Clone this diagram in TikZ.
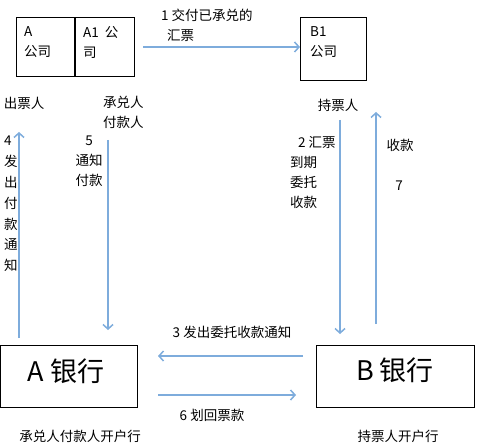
\documentclass[tikz,border=0pt]{standalone}
\usepackage{fontspec}
\setmainfont{Noto Sans CJK SC}
\usepackage{tikz}
\usetikzlibrary{arrows.meta,positioning}
\definecolor{flowblue}{HTML}{7EACDC}
\tikzset{
    > = {Straight Barb[length=4.5pt,width=10pt]},
    flow/.style = {
        ->,
        draw = flowblue,
        line width = 1.5pt
    },
    box/.style = {
        draw = black,
        line width = 1.1pt,
        rectangle,
        inner sep = 0pt
    },
    lbl/.style = {
        inner sep = 0pt,
        font = \fontsize{13.5}{20}\selectfont
    },
    big/.style = {
        inner sep = 0pt,
        font = \fontsize{27}{30}\selectfont
    }
}

\begin{document}
\begin{tikzpicture}[x=1pt, y=-1pt]
\useasboundingbox (0,0) rectangle (494,446);
%companies
    \node (acomp) [box, anchor=north west, minimum width=58pt, minimum height=59pt] at (16,17) {};
    \node (a1comp) [box, anchor=north west, minimum width=59pt, minimum height=59pt] at (acomp.north east) {};
    \node (bcomp) [box, anchor=north west, minimum width=66pt, minimum height=63pt] at (300,17) {};
    \node (atxt) [lbl, anchor=north west, align=left] at (24,26) {A\\公司};
    \node (a1txt) [lbl, anchor=north west, align=left] at (83,26) {A1\hspace{6pt}公\\司};
    \node (btxt) [lbl, anchor=north west, align=left] at (310,26) {B1\\公司};
%roles
    \node (drawer) [lbl] at (24,103) {出票人};
    \node (payer) [lbl, anchor=north west, align=left] at (103,96) {承兑人\\付款人};
    \node (holder) [lbl] at (338,105) {持票人};
%banks
    \node (abank) [box, anchor=north west, minimum width=137pt, minimum height=62pt] at (0,345) {};
    \node (bbank) [box, anchor=north west, minimum width=158pt, minimum height=62pt] at (316,345) {};
    \node (abanktxt) [big] at (66,371) {A 银行};
    \node (bbanktxt) [big] at (395,370) {B 银行};
    \node (aopen) [lbl] at (80,436) {承兑人付款人开户行};
    \node (bopen) [lbl] at (398,436) {持票人开户行};
%arrow ends
    \coordinate (s1) at (143,47);
    \coordinate (s4) at (19,338);   \coordinate (e4) at (19,132);
    \coordinate (s5) at (108,140);  \coordinate (e5) at (108,330);
    \coordinate (s2) at (340,120);  \coordinate (e2) at (340,334);
    \coordinate (s7) at (376,324);  \coordinate (e7) at (376,112);
    \coordinate (s3) at (303,356);  \coordinate (e3) at (158,356);
    \coordinate (s6) at (158,395);  \coordinate (e6) at (296,395);
    \draw[flow] (s1) -- (bcomp.west |- s1);
    \draw[flow] (s4) -- (e4);
    \draw[flow] (s5) -- (e5);
    \draw[flow] (s2) -- (e2);
    \draw[flow] (s7) -- (e7);
    \draw[flow] (s3) -- (e3);
    \draw[flow] (s6) -- (e6);
%add notation
    \node (n1) [lbl, anchor=north west, align=left] at (161,9) {1 交付已承兑的\\\hspace{6pt}汇票};
    \node (n4) [lbl, anchor=north west, align=left, font=\fontsize{13.5}{20.8}\selectfont] at (4,136) {4\\发\\出\\付\\款\\通\\知};
    \node (n5) [lbl, anchor=north, align=center] at (89,136) {5\\通知\\付款};
    \node (n2) [lbl, anchor=north west, align=left] at (290,136) {\hspace{8pt}2 汇票\\到期\\委托\\收款};
    \node (n7a) [lbl] at (400,145) {收款};
    \node (n7) [lbl] at (399,186) {7};
    \node (n3) [lbl] at (232,332) {3 发出委托收款通知};
    \node (n6) [lbl] at (212,415) {6 划回票款};
\end{tikzpicture}
\end{document}
